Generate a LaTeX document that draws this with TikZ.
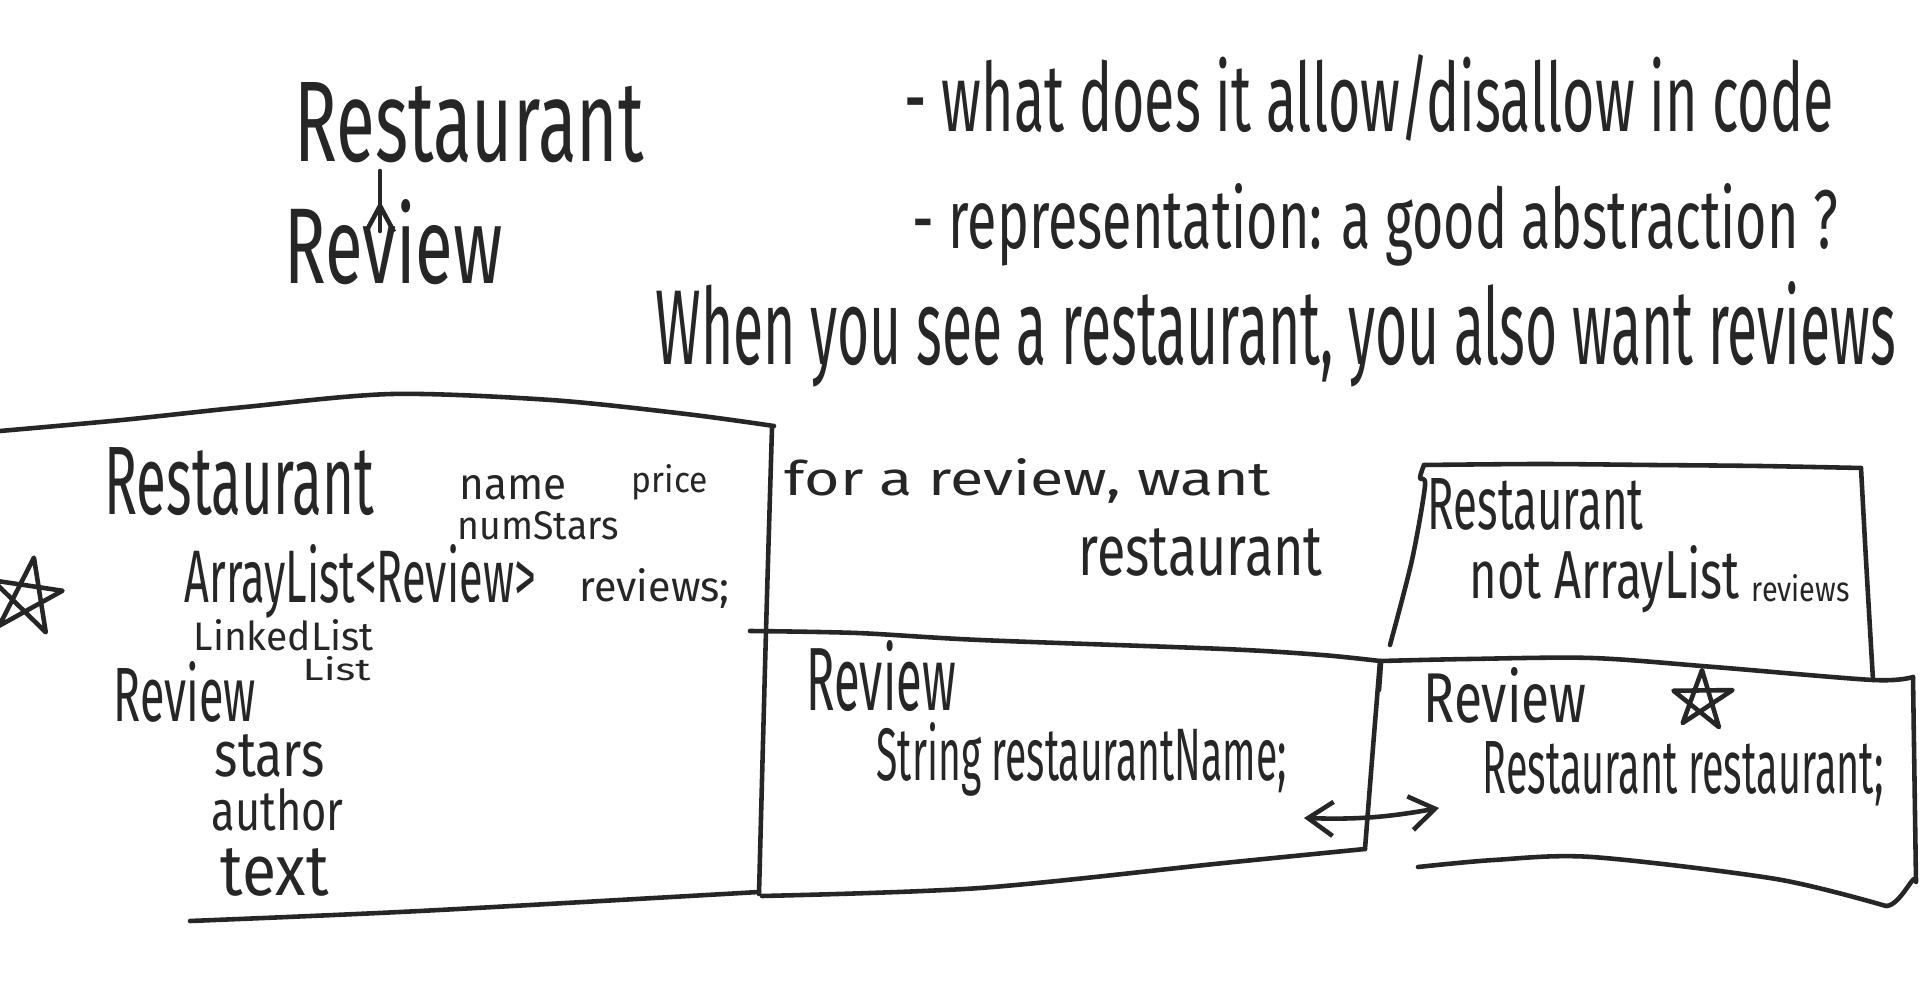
\documentclass[tikz,border=0pt]{standalone}
\usepackage{fontspec}
\setmainfont{Fira Sans}
\usepackage{graphicx}
\usetikzlibrary{arrows.meta,decorations.markings,calc}
% one unit of the picture = 0.01cm
\newlength\pxu \setlength\pxu{0.01cm}
% text squeezed to a given width and height (in picture units)
\newcommand\hw[3]{\resizebox{#1\pxu}{#2\pxu}{#3}}
\tikzset{
  ink/.style={draw=black!85, line width=1.3pt, line cap=round, line join=round},
  note/.style={anchor=base west, inner sep=0pt, text=black!85},
  barb/.tip={Straight Barb[length=2.5mm,width=3.4mm]}
}
\begin{document}
\begin{tikzpicture}[x=0.01cm,y=-0.01cm]
\fill[white] (0,0) rectangle (1920,997);
\useasboundingbox (0,0) rectangle (1920,997);

% --- heading notes ---
\node[note] (rest0) at (294,162) {\hw{349}{79}{Restaurant}};
\node[note] (rev0)  at (284,284) {\hw{218}{84}{Review}};
\node[note] (q1) at (904,132) {\hw{929}{77}{- what does it allow/disallow in code}};
\node[note] (q2) at (912,249) {\hw{925}{65}{- representation: a good abstraction ?}};
\node[note] (q3) at (655,365) {\hw{1240}{83}{When you see a restaurant, you also want reviews}};

% Review points up to Restaurant
\coordinate (upA) at (380,231);
\coordinate (upB) at (380,171);
\draw[ink, postaction={decorate}, decoration={markings,
  mark=at position 0.5 with {\arrow{Straight Barb[length=2.6mm,width=2.8mm]}}}]
  (upA) -- (upB);

% --- left box: both classes side by side ---
\draw[ink] plot[smooth] coordinates {(0,431) (122,420) (245,407) (392,394) (551,400) (686,414) (774,426)};
\draw[ink] plot[smooth] coordinates {(772,428) (766,631) (759,894)};
\draw[ink] plot[smooth] coordinates {(190,921) (420,911) (759,892)};

\node[note] (lrest)   at (104,514) {\hw{269}{67}{Restaurant}};
\node[note] (lname)   at (459,499) {\hw{107}{24}{name}};
\node[note] (lprice)  at (631,493) {\hw{76}{28}{price}};
\node[note] (lnum)    at (457,540) {\hw{161}{28}{numStars}};
\node[note] (larr)    at (184,602) {\hw{351}{58}{ArrayList<Review>}};
\node[note] (lrevs)   at (579,602) {\hw{150}{33}{reviews;}};
\node[note] (llinked) at (193,650) {\hw{180}{31}{LinkedList}};
\node[note] (llist)   at (302,680) {\hw{68}{24}{List}};
\node[note] (lrev)    at (113,721) {\hw{142}{60}{Review}};
\node[note] (lstars)  at (214,776) {\hw{110}{42}{stars}};
\node[note] (lauthor) at (211,830) {\hw{132}{42}{author}};
\node[note] (ltext)   at (220,895) {\hw{108}{47}{text}};

% star mark by the left box
\coordinate (starL) at (27,597);
\draw[ink] ($(starL)+(-80:40)$) -- ($(starL)+(62:40)$) -- ($(starL)+(206:38)$)
  -- ($(starL)+(350:36)$) -- ($(starL)+(134:40)$) -- cycle;

% --- middle: the review wants its restaurant ---
\node[note] (mfor)  at (784,496)  {\hw{486}{37}{for a review, want}};
\node[note] (mrest) at (1078,576) {\hw{244}{47}{restaurant}};

\draw[ink] plot[smooth] coordinates {(750,631) (857,633) (980,640) (1224,649) (1322,655) (1380,661)};
\draw[ink] plot[smooth] coordinates {(1380,661) (1372,760) (1365,849)};
\draw[ink] plot[smooth] coordinates {(762,896) (980,888) (1224,863) (1365,849)};

\node[note] (mrev) at (806,710) {\hw{149}{70}{Review}};
\node[note] (mstr) at (876,780) {\hw{410}{58}{String restaurantName;}};

% --- right: Restaurant above Review ---
\draw[ink] plot[smooth] coordinates {(1424,465) (1540,464) (1653,465) (1760,466) (1861,468)};
\draw[ink] plot[smooth] coordinates {(1424,465) (1420,478) (1425,486) (1412,560) (1390,645)};
\draw[ink] plot[smooth] coordinates {(1861,468) (1866,560) (1873,680)};

\node[note] (rrest) at (1427,529) {\hw{216}{51}{Restaurant}};
\node[note] (rnot)  at (1469,598) {\hw{270}{53}{not ArrayList}};
\node[note] (rrevs) at (1751,602) {\hw{98}{27}{reviews}};

\draw[ink] plot[smooth] coordinates {(1381,661) (1469,659) (1592,658) (1714,667) (1873,680) (1913,677)};
\draw[ink] (1381,663) -- (1379,690);
\draw[ink] (1913,677) -- (1916,882) to[out=90,in=0] (1886,906);
\draw[ink] plot[smooth] coordinates {(1886,906) (1776,879) (1592,857) (1494,860) (1418,867)};

\node[note] (rrev) at (1423,722) {\hw{163}{55}{Review}};
\node[note] (rrr)  at (1482,793) {\hw{401}{52}{Restaurant restaurant;}};

% star mark in the Review box
\coordinate (starR) at (1702,700);
\draw[ink] ($(starR)+(-90:30)$) -- ($(starR)+(58:32)$) -- ($(starR)+(198:30)$)
  -- ($(starR)+(342:32)$) -- ($(starR)+(130:30)$) -- cycle;

% two-way link between the two designs
\coordinate (dl) at (1304,818);
\coordinate (dr) at (1439,808);
\draw[ink, barb-barb] (dl) to[bend right=6] (dr);
\end{tikzpicture}
\end{document}
